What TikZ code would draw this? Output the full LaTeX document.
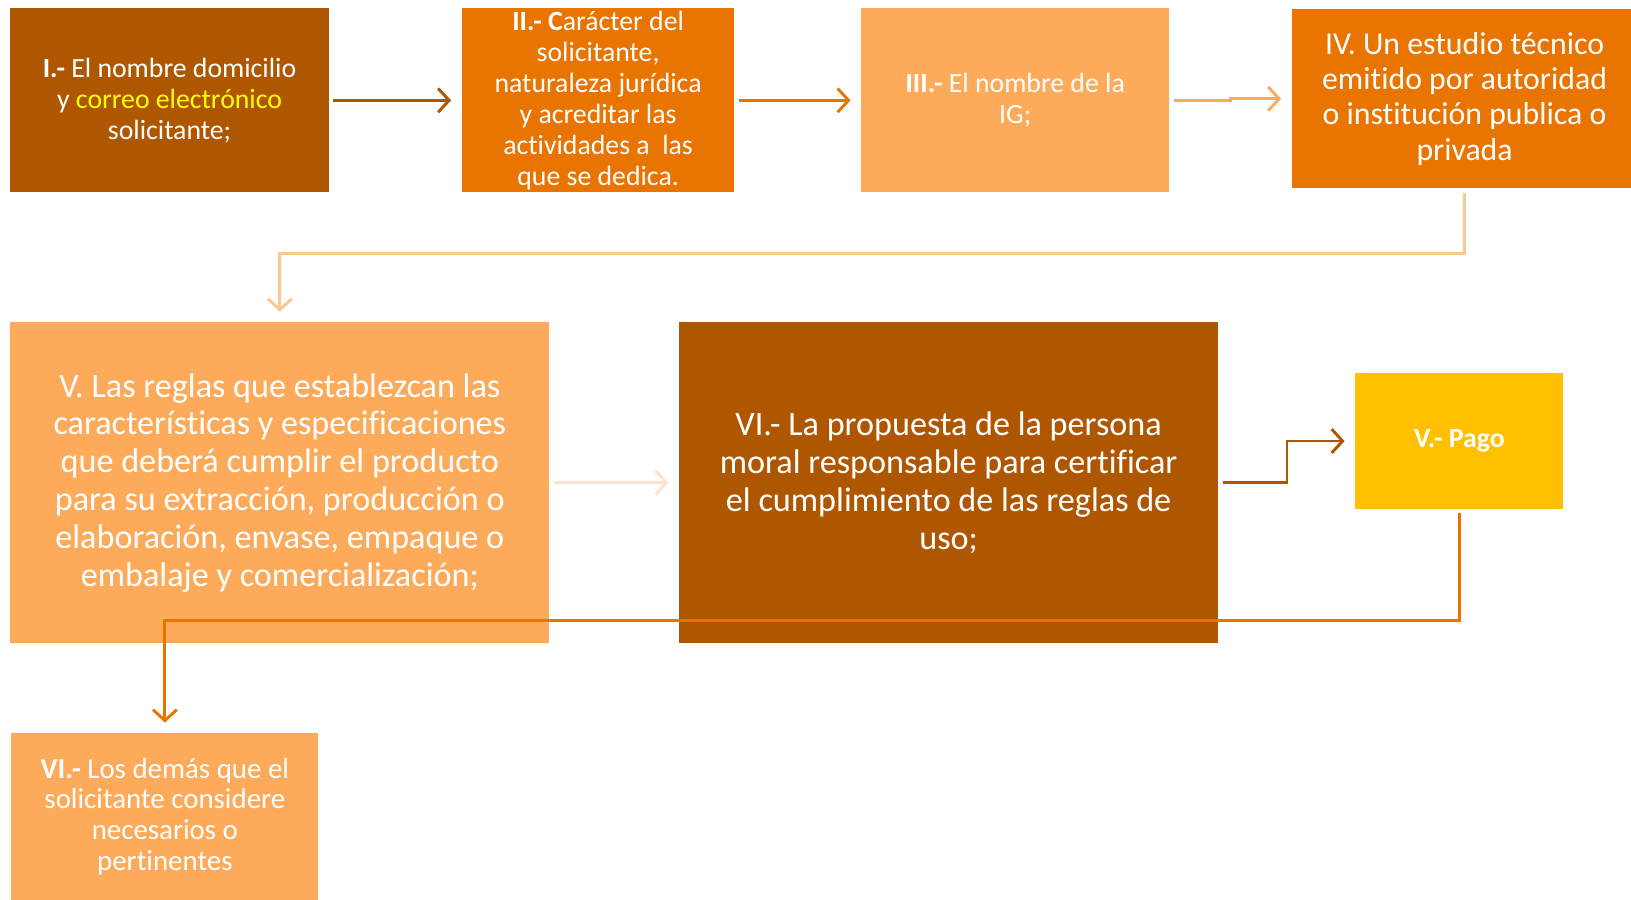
\documentclass[tikz,border=0pt]{standalone}
\usepackage{fontspec}
\setmainfont{Carlito}[Ligatures={NoCommon}]
\usetikzlibrary{arrows.meta}
\definecolor{brownbox}{HTML}{AF5700}
\definecolor{orangebox}{HTML}{E97400}
\definecolor{lightbox}{HTML}{FDAB5B}
\definecolor{paylbox}{HTML}{FFC000}
\definecolor{paleline}{HTML}{FDC790}
\definecolor{faintline}{HTML}{FDE3CC}
\definecolor{textyellow}{HTML}{FFFF00}
\begin{document}
\begin{tikzpicture}[x=0.02cm, y=-0.02cm,
    box/.style={fill=#1, text=white, align=center, inner sep=0pt},
    small/.style={font=\fontsize{15.2}{17}\selectfont},
    medium/.style={font=\fontsize{17.4}{19.3}\selectfont},
    large/.style={font=\fontsize{18.7}{20.7}\selectfont},
    link/.style={draw=#1, line width=1.6pt, shorten <=0.08cm, shorten >=0.2cm,
      -{Straight Barb[length=6pt,width=13pt,line width=1.6pt]}}]
  \useasboundingbox (0,0) rectangle (1568,864.3);

  % First row
  \node[box=brownbox, small, minimum width=6.12cm, minimum height=3.54cm] (nombre) at (163,96.5)
    {\textbf{I.-} El nombre domicilio\\ y {\color{textyellow}correo electrónico}\\ solicitante;};
  \node[box=orangebox, small, minimum width=5.24cm, minimum height=3.54cm] (caracter) at (575,96.5)
    {\textbf{II.- C}arácter del\\ solicitante,\\ naturaleza jurídica\\ y acreditar las\\ actividades a\ \ las\\ que se dedica.};
  \node[box=lightbox, small, minimum width=5.92cm, minimum height=3.54cm] (ig) at (976,96.5)
    {\textbf{III.-} El nombre de la\\ IG;};
  \node[box=orangebox, medium, minimum width=6.64cm, minimum height=3.44cm] (estudio) at (1408,95)
    {IV. Un estudio técnico\\ emitido por autoridad\\ o institución publica o\\ privada};

  % Second row
  \node[box=lightbox, large, minimum width=10.36cm, minimum height=6.16cm] (reglas) at (269,464)
    {V. Las reglas que establezcan las\\ características y especificaciones\\ que deberá cumplir el producto\\ para su extracción, producción o\\ elaboración, envase, empaque o\\ embalaje y comercialización;};
  \node[box=brownbox, large, minimum width=10.36cm, minimum height=6.16cm] (propuesta) at (912,464)
    {VI.- La propuesta de la persona\\ moral responsable para certificar\\ el cumplimiento de las reglas de\\ uso;};
  \node[box=paylbox, small, minimum width=4cm, minimum height=2.6cm] (pago) at (1403,424)
    {\textbf{V.- Pago}};

  % Last box
  \node[box=lightbox, font=\fontsize{15.8}{16.7}\selectfont, minimum width=5.9cm, minimum height=3.2cm] (demas) at (158.5,785)
    {\textbf{VI.-} Los demás que el\\ solicitante considere\\ necesarios o\\ pertinentes};

  % Connectors
  \draw[link=brownbox] (nombre) -- (caracter);
  \draw[link=orangebox] (caracter) -- (ig);
  \draw[link=lightbox] (ig.east) -- ++(59,0) |- (estudio.west);
  \draw[link=paleline] (estudio.south) -- ++(0,62) -| (reglas.north);
  \draw[link=faintline] (reglas) -- (propuesta);
  \draw[link=brownbox] (propuesta.east) -- ++(66,0) |- (pago.west);
  \draw[link=orangebox] (pago.south) -- ++(0,107) -| (demas.north);
\end{tikzpicture}
\end{document}
